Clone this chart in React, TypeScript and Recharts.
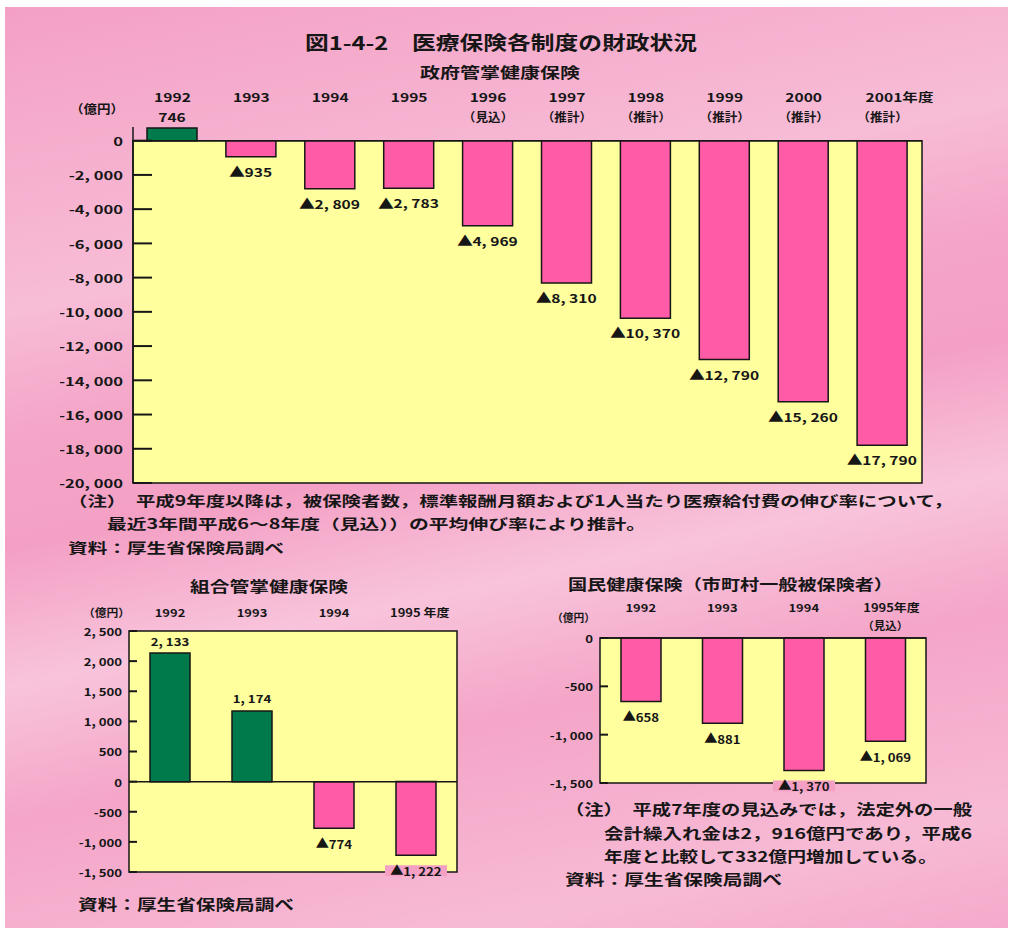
import React from "react";
import {
    BarChart,
    Bar,
    XAxis,
    YAxis,
    Cell,
    LabelList,
    ReferenceArea,
    ReferenceLine,
} from "recharts";

const FONT = "'Noto Sans CJK JP', 'Noto Sans', sans-serif";
const PINK = "#ff5ba6";
const GREEN = "#00794b";
const YELLOW = "#ffff9e";
const PAGE = "#f4a0c5";
const INK = "#161616";

// 政府管掌健康保険
const govYears = ["1992", "1993", "1994", "1995", "1996", "1997", "1998", "1999", "2000", "2001年度"];
const govNotes = ["", "", "", "", "（見込）", "（推計）", "（推計）", "（推計）", "（推計）", "（推計）"];
const govBalance = [746, -935, -2809, -2783, -4969, -8310, -10370, -12790, -15260, -17790];
const govTicks = [0, -2000, -4000, -6000, -8000, -10000, -12000, -14000, -16000, -18000, -20000];

// 組合管掌健康保険
const kumiaiYears = ["1992", "1993", "1994", "1995 年度"];
const kumiaiBalance = [2133, 1174, -774, -1222];
const kumiaiTicks = [2500, 2000, 1500, 1000, 500, 0, -500, -1000, -1500];

// 国民健康保険（市町村一般被保険者）
const kokuhoYears = ["1992", "1993", "1994", "1995年度"];
const kokuhoNotes = ["", "", "", "（見込）"];
const kokuhoBalance = [-658, -881, -1370, -1069];
const kokuhoTicks = [0, -500, -1000, -1500];

const govData = govYears.map((name, i) => ({ name, value: govBalance[i] }));
const kumiaiData = kumiaiYears.map((name, i) => ({ name, value: kumiaiBalance[i] }));
const kokuhoData = kokuhoYears.map((name, i) => ({ name, value: kokuhoBalance[i] }));

const sep = (n: number) => Math.abs(n).toLocaleString("en-US").replace(",", ", ");
const tickText = (v: number) => (v < 0 ? "-" : "") + sep(v);

function Txt({ x, y, size, sx, anchor = "middle", children }: any) {
    return (
        <text
            transform={`translate(${x},${y}) scale(${sx},1)`}
            textAnchor={anchor}
            dominantBaseline="central"
            fontSize={size}
            fontWeight={700}
            fontFamily={FONT}
            fill={INK}
        >
            {children}
        </text>
    );
}

// long lines are fitted to the width they have in the picture
function Line({ x, y, w, size, children }: any) {
    return (
        <text
            x={x}
            y={y}
            textLength={w}
            lengthAdjust="spacingAndGlyphs"
            dominantBaseline="central"
            fontSize={size}
            fontWeight={700}
            fontFamily={FONT}
            fill={INK}
        >
            {children}
        </text>
    );
}

const yTick = (len: number, gap: number, size: number, sx: number) => (p: any) => (
    <g>
        <line x1={p.x} x2={p.x + len} y1={p.y} y2={p.y} stroke={INK} strokeWidth={2} />
        <Txt x={p.x - gap} y={p.y} size={size} sx={sx} anchor="end">
            {tickText(p.payload.value)}
        </Txt>
    </g>
);

const xTick =
    (notes: string[], row1: number, row2: number, size: number, sx: number, shift: number) =>
    (p: any) => {
        const label = String(p.payload.value);
        const suffix = label.includes("年度");
        const note = notes[p.index];
        return (
            <g>
                <Txt
                    x={suffix ? p.x - shift : p.x}
                    y={p.y - row1}
                    size={size}
                    sx={sx}
                    anchor={suffix ? "start" : "middle"}
                >
                    {label}
                </Txt>
                {note && (
                    <Txt x={p.x} y={p.y - row2} size={size} sx={1.05}>
                        {note}
                    </Txt>
                )}
            </g>
        );
    };

const barLabel = (size: number, sx: number, below: number, above: number, plotBottom: number) => (p: any) => {
    const vb = p.viewBox || p;
    const v = Number(p.value);
    const top = Math.min(vb.y, vb.y + vb.height);
    const bottom = Math.max(vb.y, vb.y + vb.height);
    const cx = vb.x + vb.width / 2;
    const cy = v < 0 ? bottom + below : top - above;
    const num = sep(v);
    const w = (num.length * 0.55 + (v < 0 ? 1.1 : 0)) * size * sx;
    return (
        <g>
            {v < 0 && cy + 5 > plotBottom && (
                <rect x={cx - w / 2 - 2} y={cy - 5} width={w + 4} height={11} fill={PAGE} />
            )}
            <Txt x={cx} y={cy} size={size} sx={sx}>
                {v < 0 && (
                    <tspan fontSize={size * 1.25} fontFamily="'DejaVu Sans', sans-serif" dy={-2}>
                        ▲
                    </tspan>
                )}
                <tspan dy={v < 0 ? 2 : 0}>{num}</tspan>
            </Txt>
        </g>
    );
};

function GovChart() {
    const W = 900;
    const H = 440;
    const m = { top: 27, right: 38, bottom: 17, left: 13 };
    return (
        <BarChart width={W} height={H} data={govData} margin={m} barSize={50}>
            <ReferenceArea y1={-20000} y2={0} fill={YELLOW} fillOpacity={1} stroke={INK} strokeWidth={1.5} />
            <XAxis
                dataKey="name"
                orientation="top"
                height={40}
                axisLine={false}
                tickLine={false}
                tickSize={0}
                tickMargin={0}
                interval={0}
                tick={xTick(govNotes, 30, 10, 12, 1.3, 17)}
            />
            <YAxis
                type="number"
                domain={[-20000, 800]}
                ticks={govTicks}
                interval={0}
                width={60}
                axisLine={{ stroke: INK, strokeWidth: 1.5 }}
                tickLine={false}
                tickSize={0}
                tickMargin={0}
                tick={yTick(19, 10, 11.5, 1.44)}
            />
            <Bar dataKey="value" stroke={INK} strokeWidth={1.5} isAnimationActive={false}>
                {govData.map((d) => (
                    <Cell key={d.name} fill={d.value >= 0 ? GREEN : PINK} />
                ))}
                <LabelList dataKey="value" content={barLabel(12, 1.3, 15, 11, H - m.bottom)} />
            </Bar>
            <ReferenceLine y={0} stroke={INK} strokeWidth={1.5} />
        </BarChart>
    );
}

function SmallChart({ data, ticks, notes, domain, W, H, m, xHeight, row1, row2, shift }: any) {
    return (
        <BarChart width={W} height={H} data={data} margin={m} barSize={40}>
            <ReferenceArea
                y1={domain[0]}
                y2={domain[1]}
                fill={YELLOW}
                fillOpacity={1}
                stroke={INK}
                strokeWidth={1.5}
            />
            <XAxis
                dataKey="name"
                orientation="top"
                height={xHeight}
                axisLine={false}
                tickLine={false}
                tickSize={0}
                tickMargin={0}
                interval={0}
                tick={xTick(notes, row1, row2, 11, 1.18, shift)}
            />
            <YAxis
                type="number"
                domain={domain}
                ticks={ticks}
                interval={0}
                width={50}
                axisLine={false}
                tickLine={false}
                tickSize={0}
                tickMargin={0}
                tick={yTick(8, 7, 11, 1.2)}
            />
            <Bar dataKey="value" stroke={INK} strokeWidth={1.5} isAnimationActive={false}>
                {data.map((d: any) => (
                    <Cell key={d.name} fill={d.value >= 0 ? GREEN : PINK} />
                ))}
                <LabelList dataKey="value" content={barLabel(11, 1.2, 15, 13, H - m.bottom)} />
            </Bar>
            <ReferenceLine y={0} stroke={INK} strokeWidth={1.5} />
        </BarChart>
    );
}

export default function App() {
    return (
        <div
            style={{
                position: "absolute",
                left: 0,
                top: 0,
                width: 1013,
                height: 935,
                background: "#fff",
                overflow: "hidden",
            }}
        >
            <div
                style={{
                    position: "absolute",
                    left: 5,
                    top: 7,
                    width: 1003,
                    height: 921,
                    background:
                        "linear-gradient(168deg, rgba(255,255,255,0) 0%, rgba(255,255,255,0.3) 27%, rgba(255,255,255,0.05) 38%, rgba(255,255,255,0) 48%, rgba(255,255,255,0.38) 60%, rgba(255,255,255,0.05) 72%, rgba(255,255,255,0.28) 90%, rgba(255,255,255,0.1) 100%), " +
                        PAGE,
                }}
            />
            <div style={{ position: "absolute", left: 60, top: 60 }}>
                <GovChart />
            </div>
            <div style={{ position: "absolute", left: 60, top: 590 }}>
                <SmallChart
                    data={kumiaiData}
                    ticks={kumiaiTicks}
                    notes={["", "", "", ""]}
                    domain={[-1500, 2500]}
                    W={420}
                    H={300}
                    m={{ top: 11, right: 23, bottom: 18, left: 19 }}
                    xHeight={30}
                    row1={19}
                    row2={0}
                    shift={26}
                />
            </div>
            <div style={{ position: "absolute", left: 540, top: 580 }}>
                <SmallChart
                    data={kokuhoData}
                    ticks={kokuhoTicks}
                    notes={kokuhoNotes}
                    domain={[-1500, 0]}
                    W={420}
                    H={220}
                    m={{ top: 18, right: 34, bottom: 17, left: 10 }}
                    xHeight={40}
                    row1={31}
                    row2={13}
                    shift={22}
                />
            </div>
            <svg
                width={1013}
                height={935}
                style={{ position: "absolute", left: 0, top: 0, pointerEvents: "none" }}
            >
                <Line x={305} y={41} w={392} size={19}>図1-4-2　医療保険各制度の財政状況</Line>
                <Line x={420} y={71} w={160} size={15}>政府管掌健康保険</Line>
                <Line x={70} y={108} w={54} size={12}>（億円）</Line>
                <Line x={68} y={500} w={885} size={14}>
                    （注）　平成9年度以降は，被保険者数，標準報酬月額および1人当たり医療給付費の伸び率について，
                </Line>
                <Line x={107} y={523} w={539} size={14}>
                    最近3年間平成6～8年度（見込））の平均伸び率により推計。
                </Line>
                <Line x={68} y={547} w={216} size={14}>資料：厚生省保険局調べ</Line>

                <Line x={190} y={585} w={158} size={15}>組合管掌健康保険</Line>
                <Line x={83} y={612} w={47} size={11}>（億円）</Line>
                <Line x={78} y={903} w={216} size={15}>資料：厚生省保険局調べ</Line>

                <Line x={568} y={583} w={325} size={15}>国民健康保険（市町村一般被保険者）</Line>
                <Line x={552} y={617} w={43} size={11}>（億円）</Line>
                <Line x={565} y={808} w={407} size={15}>（注）　平成7年度の見込みでは，法定外の一般</Line>
                <Line x={604} y={832} w={368} size={15}>会計繰入れ金は2，916億円であり，平成6</Line>
                <Line x={604} y={855} w={333} size={15}>年度と比較して332億円増加している。</Line>
                <Line x={565} y={878} w={217} size={15}>資料：厚生省保険局調べ</Line>
            </svg>
        </div>
    );
}
